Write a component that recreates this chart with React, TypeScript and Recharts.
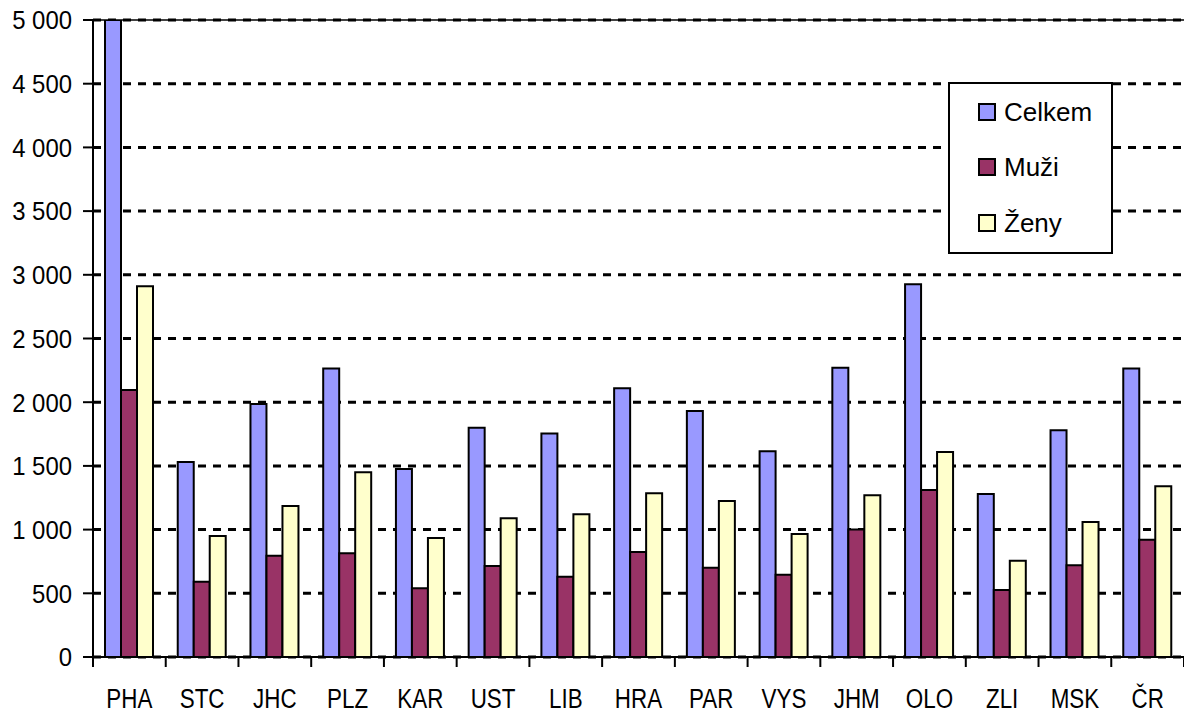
import React from 'react';
import { BarChart, Bar, XAxis, YAxis, CartesianGrid, Legend, ReferenceLine } from 'recharts';

const categories = ['PHA', 'STC', 'JHC', 'PLZ', 'KAR', 'UST', 'LIB', 'HRA', 'PAR', 'VYS', 'JHM', 'OLO', 'ZLI', 'MSK', 'ČR'];
const celkem = [5000, 1530, 1985, 2265, 1475, 1800, 1755, 2110, 1930, 1615, 2270, 2925, 1280, 1780, 2265];
const muzi = [2095, 590, 795, 815, 540, 715, 630, 825, 700, 645, 1000, 1310, 525, 720, 920];
const zeny = [2910, 950, 1185, 1450, 935, 1090, 1120, 1285, 1225, 965, 1270, 1610, 755, 1060, 1340];
const yTicks = [0, 500, 1000, 1500, 2000, 2500, 3000, 3500, 4000, 4500, 5000];

const data = categories.map((name, i) => ({
  name,
  celkem: celkem[i],
  muzi: muzi[i],
  zeny: zeny[i],
}));

const FONT = '"Liberation Sans", Arial, sans-serif';
const WIDTH = 1184;
const HEIGHT = 716;
const AXIS_W = 93;
const BAND = (WIDTH - AXIS_W) / categories.length;

const formatNum = (v: number) => (v >= 1000 ? `${Math.floor(v / 1000)} ${String(v % 1000).padStart(3, '0')}` : `${v}`);

const YTick = (props: any) => {
  const { x, y, payload } = props;
  return (
    <g transform={`translate(${x},${y}) scale(0.92,1)`}>
      <text x={0} y={0} dy="0.36em" textAnchor="end" fontSize={26} fontFamily={FONT} fill="#000">
        {formatNum(payload.value)}
      </text>
    </g>
  );
};

const XTick = (props: any) => {
  const { x, y, payload, index } = props;
  const left = x - BAND / 2;
  return (
    <g>
      <line x1={left} x2={left} y1={y} y2={y + 10} stroke="#000" strokeWidth={2} />
      {index === categories.length - 1 && (
        <line x1={left + BAND} x2={left + BAND} y1={y} y2={y + 10} stroke="#000" strokeWidth={2} />
      )}
      <g transform={`translate(${x},${y + 51}) scale(0.8,1)`}>
        <text x={0} y={0} textAnchor="middle" fontSize={28} fontFamily={FONT} fill="#000">
          {payload.value}
        </text>
      </g>
    </g>
  );
};

const LegendBox = (props: any) => {
  const items = props.payload || [];
  return (
    <div
      style={{
        width: 165,
        height: 172,
        boxSizing: 'border-box',
        border: '2px solid #000',
        background: '#fff',
        paddingTop: 0,
        paddingLeft: 28,
        fontFamily: FONT,
        fontSize: 26,
        color: '#000',
      }}
    >
      {items.map((it: any) => (
        <div key={it.value} style={{ display: 'flex', alignItems: 'center', height: 55.5 }}>
          <span
            style={{
              display: 'inline-block',
              width: 18,
              height: 18,
              boxSizing: 'border-box',
              border: '2px solid #000',
              background: it.color,
              marginRight: 8,
            }}
          />
          <span style={{ lineHeight: '26px' }}>{it.value}</span>
        </div>
      ))}
    </div>
  );
};

export default function App() {
  return (
    <div style={{ position: 'absolute', left: 0, top: 0, width: WIDTH, height: HEIGHT, background: '#fff' }}>
      <BarChart
        width={WIDTH}
        height={HEIGHT}
        data={data}
        margin={{ top: 20, right: 0, left: 0, bottom: 0 }}
        barGap={0}
      >
        <CartesianGrid vertical={false} stroke="#000" strokeWidth={3} strokeDasharray="8 7" />
        <XAxis
          dataKey="name"
          height={59}
          axisLine={{ stroke: '#000', strokeWidth: 2 }}
          tickLine={false}
          tickSize={0}
          tickMargin={0}
          interval={0}
          tick={<XTick />}
        />
        <YAxis
          width={AXIS_W}
          domain={[0, 5000]}
          ticks={yTicks}
          interval={0}
          allowDataOverflow
          axisLine={{ stroke: '#000', strokeWidth: 2 }}
          tickLine={{ stroke: '#000', strokeWidth: 2 }}
          tickSize={10}
          tickMargin={11}
          tick={<YTick />}
        />
        <ReferenceLine y={5000} stroke="#000" strokeWidth={1.5} />
        <Legend
          layout="vertical"
          align="center"
          verticalAlign="middle"
          content={<LegendBox />}
          wrapperStyle={{ left: 948, top: 82, width: 165, height: 172, bottom: 'auto', right: 'auto' }}
        />
        <Bar dataKey="celkem" name="Celkem" fill="#9999FF" stroke="#000" strokeWidth={2} barSize={16} isAnimationActive={false} />
        <Bar dataKey="muzi" name="Muži" fill="#993366" stroke="#000" strokeWidth={2} barSize={16} isAnimationActive={false} />
        <Bar dataKey="zeny" name="Ženy" fill="#FFFFCC" stroke="#000" strokeWidth={2} barSize={16} isAnimationActive={false} />
      </BarChart>
    </div>
  );
}
